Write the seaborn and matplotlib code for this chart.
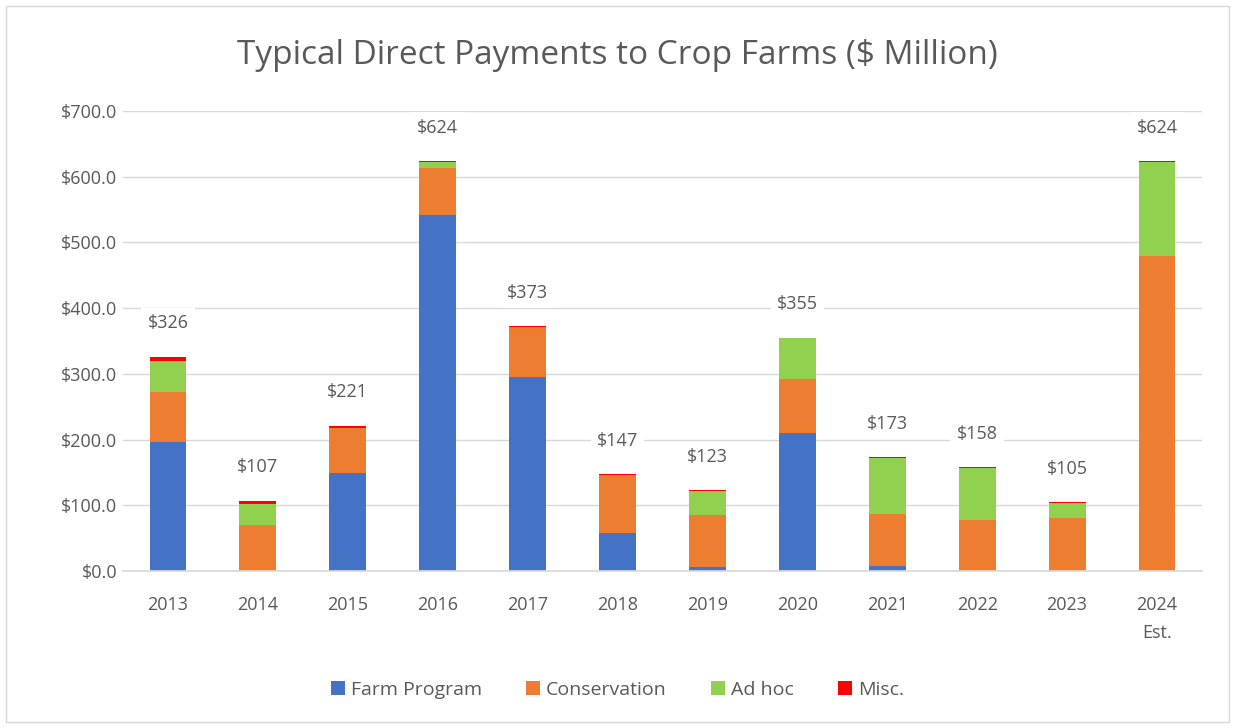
import numpy as np
import pandas as pd
import matplotlib
matplotlib.use("Agg")
import matplotlib.pyplot as plt
from matplotlib.patches import Patch, Rectangle
import seaborn as sns

years = ["2013", "2014", "2015", "2016", "2017", "2018", "2019", "2020", "2021", "2022", "2023", "2024\nEst."]
farm_program = [197, 0, 149, 542, 295, 58, 6, 210, 8, 0, 0, 0]
conservation = [76, 70, 68, 71, 76, 88, 79, 82, 78, 78, 80, 480]
ad_hoc = [46, 32, 1, 10, 0, 0, 37, 62, 86, 79, 24, 142]
misc = [7, 5, 3, 1, 2, 1, 1, 1, 1, 1, 1, 2]
totals = [326, 107, 221, 624, 373, 147, 123, 355, 173, 158, 105, 624]
series_names = ["Farm Program", "Conservation", "Ad hoc", "Misc."]
colors = ["#4472C4", "#ED7D31", "#92D050", "#FF0000"]
yticks = [0, 100, 200, 300, 400, 500, 600, 700]

sns.set_theme(style="white")
plt.rcParams['font.family'] = ['Open Sans', 'DejaVu Sans']
text_color = "#595959"

fig = plt.figure(figsize=(12.35, 7.28), dpi=100)
fig.patches.append(Rectangle((6 / 1235, 6 / 728), 1 - 12 / 1235, 1 - 12 / 728,
                             transform=fig.transFigure, fill=False,
                             edgecolor="#D9D9D9", linewidth=1.0))
ax = fig.add_axes([123 / 1235, 157 / 728, (1202 - 123) / 1235, (617 - 157) / 728])

fp = np.array(farm_program, dtype=float)
cs = np.array(conservation, dtype=float)
ah = np.array(ad_hoc, dtype=float)
ms = np.array(misc, dtype=float)
levels = [fp, fp + cs, fp + cs + ah, fp + cs + ah + ms]

for lvl, col in zip(reversed(levels), reversed(colors)):
    df = pd.DataFrame({"year": years, "value": lvl})
    sns.barplot(data=df, x="year", y="value", color=col, saturation=1,
                width=0.41, ax=ax, linewidth=0, order=years)

ax.set_ylim(0, 700)
ax.set_xlim(-0.5, len(years) - 0.5)
ax.set_yticks(yticks)
ax.set_yticklabels([f"${v:.1f}" for v in yticks])
ax.yaxis.grid(True, color="#D9D9D9", linewidth=1.0)
ax.set_axisbelow(True)
for s in ["top", "right", "left"]:
    ax.spines[s].set_visible(False)
ax.spines["bottom"].set_color("#D9D9D9")
ax.tick_params(axis="both", colors=text_color, labelsize=13, length=0)
ax.tick_params(axis="x", pad=18)
ax.tick_params(axis="y", pad=4)
for lbl in ax.get_xticklabels():
    lbl.set_linespacing(1.7)
ax.set_xlabel("")
ax.set_ylabel("")

top = levels[-1]
for i, t in enumerate(totals):
    ax.annotate(f"${t}", xy=(i, top[i]), xytext=(0, 24), textcoords="offset points",
                ha="center", va="center", fontsize=13, color=text_color,
                bbox=dict(boxstyle="square,pad=0.35", fc="white", ec="none"))

fig.text(0.5, 1 - 55 / 728, "Typical Direct Payments to Crop Farms ($ Million)",
         ha="center", va="center", fontsize=24, color=text_color)

handles = [Patch(facecolor=c, edgecolor="none", label=n) for n, c in zip(series_names, colors)]
fig.legend(handles=handles, loc="center", bbox_to_anchor=(0.5, 1 - 690 / 728), ncol=4,
           frameon=False, fontsize=14, handlelength=0.7, handleheight=0.7,
           handletextpad=0.3, columnspacing=2.3, labelcolor=text_color)

fig.savefig("out.png", dpi=100)
